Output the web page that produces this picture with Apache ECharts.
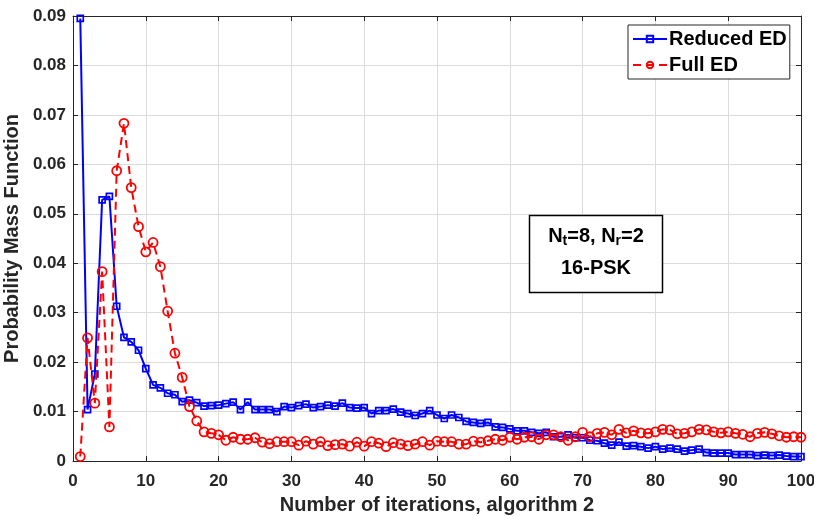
<!DOCTYPE html>
<html>
<head>
<meta charset="utf-8">
<script src="https://cdn.jsdelivr.net/npm/echarts@6/dist/echarts.min.js"></script>
<style>
  html, body { margin: 0; padding: 0; background: #ffffff; }
  #chart { width: 814px; height: 516px; }
</style>
</head>
<body>
<div id="chart"></div>
<script>
// Iteration index, 1..100
const iterations = [
  1, 2, 3, 4, 5, 6, 7, 8, 9, 10,
  11, 12, 13, 14, 15, 16, 17, 18, 19, 20,
  21, 22, 23, 24, 25, 26, 27, 28, 29, 30,
  31, 32, 33, 34, 35, 36, 37, 38, 39, 40,
  41, 42, 43, 44, 45, 46, 47, 48, 49, 50,
  51, 52, 53, 54, 55, 56, 57, 58, 59, 60,
  61, 62, 63, 64, 65, 66, 67, 68, 69, 70,
  71, 72, 73, 74, 75, 76, 77, 78, 79, 80,
  81, 82, 83, 84, 85, 86, 87, 88, 89, 90,
  91, 92, 93, 94, 95, 96, 97, 98, 99, 100
];

// PMF of the iteration count, reduced Euclidean-distance search
const reducedED = [
  0.0895, 0.0104, 0.0176, 0.0528, 0.0535, 0.0313, 0.0250, 0.0241, 0.0224, 0.0187,
  0.0154, 0.0148, 0.0137, 0.0134, 0.0120, 0.0123, 0.0118, 0.0111, 0.0112, 0.0113,
  0.0116, 0.0119, 0.0104, 0.0119, 0.0104, 0.0104, 0.0104, 0.0100, 0.0110, 0.0108,
  0.0112, 0.0115, 0.0108, 0.0110, 0.0113, 0.0111, 0.0117, 0.0108, 0.0107, 0.0108,
  0.0096, 0.0102, 0.0102, 0.0105, 0.0099, 0.0096, 0.0092, 0.0096, 0.0102, 0.0093,
  0.0086, 0.0093, 0.0088, 0.0080, 0.0078, 0.0076, 0.0078, 0.0069, 0.0068, 0.0065,
  0.0061, 0.0061, 0.0058, 0.0056, 0.0058, 0.0049, 0.0049, 0.0053, 0.0047, 0.0047,
  0.0042, 0.0041, 0.0036, 0.0032, 0.0038, 0.0030, 0.0031, 0.0029, 0.0026, 0.0029,
  0.0024, 0.0026, 0.0024, 0.0020, 0.0022, 0.0024, 0.0017, 0.0016, 0.0016, 0.0016,
  0.0013, 0.0013, 0.0013, 0.0011, 0.0012, 0.0011, 0.0012, 0.0010, 0.0009, 0.0009
];

// PMF of the iteration count, full Euclidean-distance search
const fullED = [
  0.0009, 0.0249, 0.0117, 0.0383, 0.0069, 0.0587, 0.0683, 0.0553, 0.0474, 0.0423,
  0.0442, 0.0393, 0.0303, 0.0218, 0.0169, 0.0110, 0.0081, 0.0059, 0.0056, 0.0053,
  0.0042, 0.0048, 0.0044, 0.0044, 0.0047, 0.0038, 0.0035, 0.0039, 0.0039, 0.0039,
  0.0032, 0.0040, 0.0034, 0.0039, 0.0031, 0.0033, 0.0034, 0.0030, 0.0038, 0.0030,
  0.0039, 0.0036, 0.0029, 0.0037, 0.0034, 0.0031, 0.0034, 0.0039, 0.0032, 0.0040,
  0.0039, 0.0039, 0.0034, 0.0034, 0.0040, 0.0038, 0.0041, 0.0044, 0.0042, 0.0048,
  0.0044, 0.0048, 0.0049, 0.0044, 0.0053, 0.0053, 0.0049, 0.0042, 0.0049, 0.0058,
  0.0049, 0.0056, 0.0058, 0.0053, 0.0064, 0.0057, 0.0061, 0.0057, 0.0056, 0.0059,
  0.0064, 0.0063, 0.0055, 0.0056, 0.0059, 0.0064, 0.0063, 0.0059, 0.0057, 0.0059,
  0.0056, 0.0054, 0.0049, 0.0056, 0.0058, 0.0055, 0.0051, 0.0048, 0.0049, 0.0048
];

const seriesNames = ['Reduced ED', 'Full ED'];
const xTitle = 'Number of iterations, algorithm 2';
const yTitle = 'Probability Mass Function';
const noteLine1 = '{n|N}{s|t}{n|=8, N}{s|r}{n|=2}';
const noteLine2 = '{n|16-PSK}';

const FONT = '"Liberation Sans", Arial, Helvetica, sans-serif';
const AXIS_COLOR = '#262626';
const GRID_COLOR = '#dcdcdc';

const pairs = (ys) => ys.map((y, i) => [iterations[i], y]);

const chart = echarts.init(document.getElementById('chart'), null, { renderer: 'canvas' });

const tickLabel = { color: AXIS_COLOR, fontFamily: FONT, fontWeight: 'bold', fontSize: 17 };
const titleText = { color: AXIS_COLOR, fontFamily: FONT, fontWeight: 'bold', fontSize: 20 };

chart.setOption({
  backgroundColor: '#ffffff',
  animation: false,
  grid: { left: 73, right: 13, top: 16, bottom: 55, containLabel: false, outerBoundsMode: 'none' },
  xAxis: [
    {
      type: 'value', min: 0, max: 100, interval: 10, position: 'bottom',
      name: xTitle, nameLocation: 'middle', nameGap: 34,
      nameTextStyle: titleText,
      axisLine: { show: true, onZero: false, lineStyle: { color: AXIS_COLOR, width: 1 } },
      axisTick: { show: true, inside: true, length: 5, lineStyle: { color: AXIS_COLOR } },
      axisLabel: Object.assign({ margin: 12 }, tickLabel),
      splitLine: { show: true, lineStyle: { color: GRID_COLOR, width: 1 } }
    },
    {
      type: 'value', min: 0, max: 100, interval: 10, position: 'top',
      axisLine: { show: true, onZero: false, lineStyle: { color: AXIS_COLOR, width: 1 } },
      axisTick: { show: true, inside: true, length: 5, lineStyle: { color: AXIS_COLOR } },
      axisLabel: { show: false },
      splitLine: { show: false }
    }
  ],
  yAxis: [
    {
      type: 'value', min: 0, max: 0.09, interval: 0.01, position: 'left',
      name: yTitle, nameLocation: 'middle', nameGap: 41, nameRotate: 90,
      nameTextStyle: titleText,
      axisLine: { show: true, onZero: false, lineStyle: { color: AXIS_COLOR, width: 1 } },
      axisTick: { show: true, inside: true, length: 5, lineStyle: { color: AXIS_COLOR } },
      axisLabel: Object.assign({
        margin: 7,
        formatter: (v) => (Math.abs(v) < 1e-12 ? '0' : v.toFixed(2))
      }, tickLabel),
      splitLine: { show: true, lineStyle: { color: GRID_COLOR, width: 1 } }
    },
    {
      type: 'value', min: 0, max: 0.09, interval: 0.01, position: 'right',
      axisLine: { show: true, onZero: false, lineStyle: { color: AXIS_COLOR, width: 1 } },
      axisTick: { show: true, inside: true, length: 5, lineStyle: { color: AXIS_COLOR } },
      axisLabel: { show: false },
      splitLine: { show: false }
    }
  ],
  legend: {
    orient: 'vertical',
    left: 628, top: 25,
    padding: [4, 3, 4, 4],
    itemGap: 6,
    itemWidth: 34, itemHeight: 8,
    backgroundColor: '#ffffff',
    borderColor: AXIS_COLOR, borderWidth: 1,
    textStyle: { color: '#000000', fontFamily: FONT, fontWeight: 'bold', fontSize: 20, padding: [0, 0, 0, -3] },
    data: seriesNames
  },
  series: [
    {
      name: seriesNames[0],
      type: 'line',
      xAxisIndex: 0, yAxisIndex: 0,
      data: pairs(reducedED),
      symbol: 'rect', symbolSize: 6,
      lineStyle: { color: '#0000ff', width: 2 },
      itemStyle: { color: 'rgba(0,0,0,0)', borderColor: '#0000ff', borderWidth: 1.7 },
      emphasis: { disabled: true },
      z: 2
    },
    {
      name: seriesNames[1],
      type: 'line',
      xAxisIndex: 0, yAxisIndex: 0,
      data: pairs(fullED),
      symbol: 'circle', symbolSize: 9,
      lineStyle: { color: '#ff0000', width: 2, type: [8, 5] },
      itemStyle: { color: 'rgba(0,0,0,0)', borderColor: '#ff0000', borderWidth: 1.8 },
      emphasis: { disabled: true },
      z: 3
    }
  ],
  graphic: [
    {
      type: 'rect',
      shape: { x: 529.5, y: 215.5, width: 133, height: 77 },
      style: { fill: '#ffffff', stroke: '#000000', lineWidth: 1.5 },
      z: 10
    },
    {
      type: 'text',
      x: 596, y: 237.5,
      style: {
        text: noteLine1,
        align: 'center', verticalAlign: 'middle',
        rich: {
          n: { fontFamily: FONT, fontWeight: 'bold', fontSize: 20, fill: '#000000', lineHeight: 22, verticalAlign: 'top' },
          s: { fontFamily: FONT, fontWeight: 'bold', fontSize: 14, fill: '#000000', lineHeight: 14, padding: [17, 0, 0, 0], verticalAlign: 'bottom' }
        }
      },
      z: 11
    },
    {
      type: 'text',
      x: 596, y: 268,
      style: {
        text: noteLine2,
        align: 'center', verticalAlign: 'middle',
        rich: {
          n: { fontFamily: FONT, fontWeight: 'bold', fontSize: 20, fill: '#000000' }
        }
      },
      z: 11
    }
  ]
});
</script>
</body>
</html>
